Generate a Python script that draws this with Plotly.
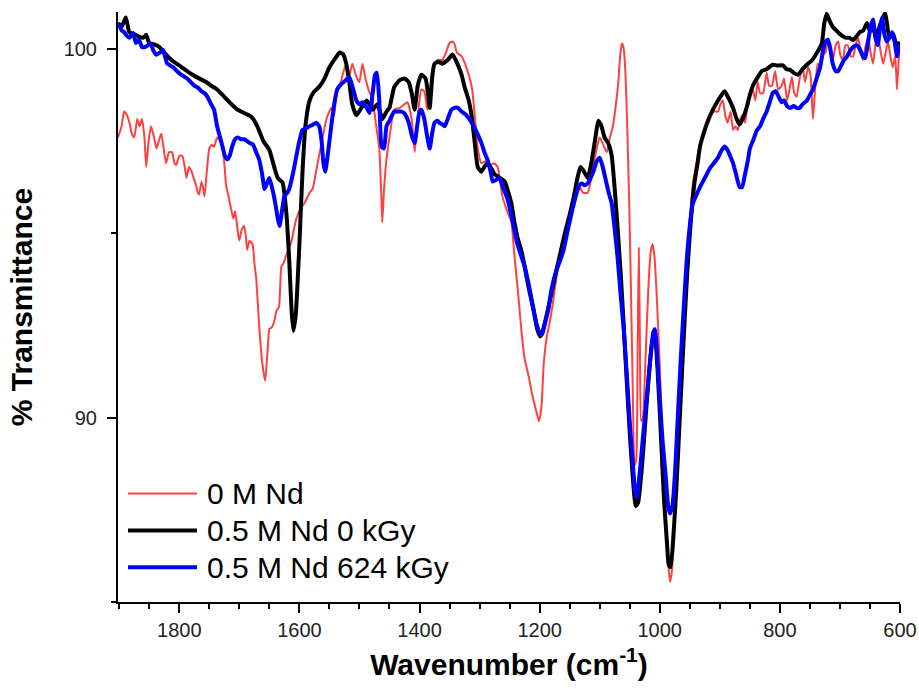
import plotly.graph_objects as go

# ---------------- data ----------------
wn_black = [1902,1896,1889,1883,1875,1867,1860,1855,1850,1842,1833,1825,1813,1802,1790,1778,1767,1755,1747,1737,1725,1713,1703,1692,1680,1670,1660,1650,1642,1636,1628,1622,1617,1613,1610,1606,1600,1595,1590,1583,1575,1567,1558,1550,1540,1533,1527,1522,1517,1512,1505,1497,1488,1478,1470,1462,1455,1450,1442,1433,1425,1418,1413,1408,1403,1397,1390,1386,1383,1379,1375,1368,1363,1353,1345,1337,1330,1325,1318,1313,1308,1303,1297,1292,1287,1280,1275,1266,1258,1252,1247,1242,1237,1230,1225,1218,1210,1204,1199,1194,1188,1180,1172,1165,1158,1150,1143,1137,1132,1127,1120,1114,1108,1102,1097,1092,1086,1080,1075,1070,1065,1060,1055,1050,1045,1040,1036,1030,1024,1018,1012,1008,1004,998,993,988,985,982,978,972,966,960,954,948,942,937,933,925,917,910,903,897,892,885,878,872,867,862,855,850,845,838,830,822,812,805,795,789,783,777,770,762,755,746,738,733,730,726,722,717,712,706,700,690,684,678,672,667,661,655,650,644,638,632,625,620,617,611,605,601]
t_black = [100.7,100.6,100.85,100.45,100.4,100.33,100.3,100.38,100.16,100.12,100.05,99.9,99.7,99.57,99.43,99.3,99.2,99.1,99.0,98.9,98.7,98.5,98.35,98.26,98.16,97.9,97.5,97.26,96.8,96.5,96.37,95.6,94.3,92.9,92.35,92.8,94.7,96.6,97.9,98.6,98.85,98.97,99.2,99.5,99.75,99.9,99.85,99.6,99.1,98.5,98.2,98.4,98.6,98.35,98.5,98.1,98.3,98.4,98.97,99.15,99.2,99.1,98.8,98.35,99.0,99.3,99.2,98.8,98.4,99.2,99.6,99.65,99.6,99.7,99.85,99.6,99.3,98.97,98.6,98.16,97.45,96.8,96.67,96.8,96.9,96.75,96.6,96.5,96.4,96.1,95.8,95.3,94.9,94.5,94.1,93.5,92.9,92.4,92.2,92.4,92.8,93.4,94.0,94.5,95.0,95.5,96.0,96.5,96.8,96.7,96.5,96.9,97.5,98.05,97.9,97.6,97.45,97.1,96.2,95.1,93.9,92.5,91.0,89.6,88.4,87.6,87.7,88.6,89.9,91.2,92.1,92.2,91.4,89.5,87.8,86.6,86.0,85.95,86.6,88.2,90.2,92.2,94.0,95.4,96.4,96.9,97.35,97.8,98.16,98.4,98.6,98.75,98.85,98.65,98.4,98.1,97.95,98.1,98.43,98.75,99.0,99.2,99.4,99.45,99.57,99.55,99.55,99.45,99.43,99.35,99.3,99.45,99.57,99.7,99.9,100.05,100.16,100.7,100.95,100.75,100.6,100.5,100.4,100.3,100.3,100.24,100.35,100.45,100.5,100.7,100.5,100.5,100.45,100.7,100.97,100.5,100.3,100.4,99.97,100.2]

wn_red = [1902,1900,1896,1892,1887,1883,1879,1875,1870,1866,1862,1858,1855,1851,1847,1842,1838,1834,1830,1826,1822,1817,1812,1808,1805,1800,1795,1791,1788,1784,1780,1776,1772,1769,1767,1763,1760,1758,1754,1750,1746,1742,1737,1732,1728,1725,1722,1718,1713,1710,1707,1703,1700,1696,1692,1689,1687,1683,1678,1675,1672,1667,1662,1657,1653,1650,1646,1642,1638,1634,1630,1626,1622,1617,1613,1605,1597,1592,1583,1578,1572,1563,1555,1547,1542,1537,1533,1528,1522,1517,1512,1505,1500,1495,1490,1485,1478,1472,1467,1464,1462,1459,1455,1450,1442,1433,1425,1420,1413,1408,1403,1397,1392,1387,1382,1378,1370,1362,1356,1350,1345,1341,1338,1330,1322,1313,1308,1303,1297,1290,1283,1276,1270,1262,1253,1247,1242,1236,1230,1225,1218,1212,1206,1201,1197,1193,1188,1183,1178,1172,1165,1158,1150,1142,1135,1128,1120,1112,1105,1100,1094,1088,1083,1078,1073,1069,1066,1063,1060,1057,1054,1051,1048,1045,1042,1039,1037,1035,1033,1031,1028,1024,1019,1015,1012,1009,1005,1000,995,990,986,983,980,976,971,966,960,955,950,945,940,933,925,917,910,903,899,895,891,887,882,878,874,870,866,862,858,855,850,845,841,837,833,828,822,818,813,808,803,797,793,788,784,780,776,772,767,762,758,753,749,745,741,737,732,728,724,720,716,712,707,703,699,695,691,687,682,678,674,670,666,662,657,653,649,645,641,637,632,628,624,620,616,612,608,605,601]
t_red = [97.6,97.7,97.9,98.3,98.2,98.0,97.7,97.6,98.1,97.9,98.1,97.6,96.8,97.5,97.9,97.6,97.3,97.5,97.7,97.3,96.9,97.2,97.2,96.9,96.85,97.1,97.1,96.8,96.5,96.8,96.7,96.5,96.3,96.1,96.05,96.4,96.2,96.0,96.7,97.3,97.4,97.35,97.6,97.5,97.3,96.9,96.3,96.0,95.6,95.4,95.6,95.1,94.8,95.1,95.2,94.9,94.55,94.8,94.7,94.2,93.8,92.5,91.5,91.0,91.8,92.4,92.45,92.6,92.9,93.0,94.1,94.2,94.4,94.6,94.8,95.4,95.7,95.8,96.1,96.2,96.7,97.45,98.1,98.4,98.2,98.97,99.0,99.3,99.6,99.25,99.6,99.24,99.1,99.6,99.2,98.9,98.6,97.9,97.3,96.2,95.3,96.2,97.0,97.6,98.35,98.4,98.5,98.55,98.08,97.2,98.1,98.9,98.85,98.35,98.9,99.5,99.7,99.7,99.9,100.16,100.2,100.1,99.9,99.8,99.5,98.97,98.2,97.3,96.9,96.95,96.85,96.9,96.8,96.0,95.55,95.3,94.4,93.4,92.3,91.6,91.1,90.6,90.2,89.9,90.3,91.5,92.2,92.6,93.1,93.8,94.4,94.9,95.3,95.9,96.3,96.1,96.1,96.7,97.3,97.6,97.4,97.2,97.6,97.9,98.5,99.1,99.8,100.15,100.0,99.3,97.8,95.9,93.5,90.8,88.7,88.9,91.5,94.6,92.0,89.9,90.0,91.5,93.5,94.5,94.7,94.4,93.3,91.4,89.3,87.4,86.1,85.55,85.8,87.0,89.0,90.7,92.8,94.3,95.4,96.3,96.8,97.45,97.9,98.2,98.3,98.3,98.5,98.6,98.2,98.0,98.3,97.8,97.9,97.8,98.1,98.2,98.0,98.35,98.7,98.9,98.6,99.1,98.8,98.8,99.35,99.0,99.0,99.4,98.9,99.0,99.2,98.6,98.9,99.24,98.8,98.7,99.2,99.5,99.1,99.5,99.3,98.1,99.0,99.6,99.5,99.84,99.9,100.24,99.9,99.7,100.1,100.2,99.8,99.7,100.1,100.1,99.8,99.8,100.1,100.3,100.0,99.7,100.1,100.3,99.9,99.6,100.1,100.4,99.9,99.6,99.9,100.2,99.8,99.5,99.8,98.9,100.1]

wn_blue = [1902,1900,1896,1892,1887,1883,1877,1872,1867,1862,1857,1852,1848,1843,1838,1832,1827,1823,1820,1815,1810,1804,1797,1792,1787,1781,1775,1769,1763,1758,1753,1747,1742,1737,1732,1728,1724,1720,1716,1712,1707,1703,1697,1692,1687,1683,1677,1672,1667,1662,1658,1654,1650,1645,1640,1636,1633,1629,1625,1620,1617,1611,1605,1600,1595,1589,1583,1577,1572,1567,1563,1560,1557,1553,1547,1542,1537,1530,1522,1517,1512,1505,1500,1495,1488,1483,1478,1474,1471,1467,1463,1459,1455,1450,1447,1442,1437,1430,1425,1418,1412,1408,1404,1400,1397,1392,1387,1383,1379,1375,1370,1367,1362,1358,1353,1347,1342,1336,1330,1322,1313,1305,1297,1292,1287,1282,1278,1272,1267,1260,1253,1246,1241,1237,1231,1225,1218,1212,1206,1200,1196,1192,1186,1180,1172,1165,1160,1153,1146,1140,1134,1130,1125,1120,1115,1110,1105,1100,1095,1090,1085,1080,1075,1070,1065,1060,1055,1050,1045,1041,1038,1034,1030,1025,1020,1015,1011,1008,1004,1000,995,990,986,983,979,975,970,965,960,955,950,945,940,933,925,917,910,903,897,892,887,883,878,873,867,863,858,853,850,845,838,833,828,822,817,812,807,802,797,793,788,783,777,772,767,762,755,750,745,738,733,728,724,720,716,712,707,703,698,693,688,683,678,672,667,662,658,654,649,645,641,637,633,630,626,622,618,613,609,605,601]
t_blue = [100.7,100.65,100.5,100.46,100.35,100.3,100.43,100.16,100.25,100.05,100.05,100.1,100.15,99.95,99.84,99.9,99.97,99.75,99.6,99.55,99.5,99.4,99.3,99.25,99.2,99.1,99.0,98.95,98.85,98.8,98.7,98.5,98.35,97.9,97.6,97.35,97.1,97.0,97.1,97.35,97.55,97.6,97.55,97.55,97.5,97.45,97.4,97.2,97.0,96.6,96.2,96.35,96.5,96.2,95.8,95.4,95.2,95.6,96.0,96.1,96.2,96.6,97.1,97.5,97.8,97.85,97.9,97.95,98.0,97.9,97.5,96.9,96.67,97.1,97.9,98.5,98.9,99.05,99.16,99.24,99.0,98.6,98.5,98.55,98.4,98.26,98.8,99.3,99.35,98.6,97.35,97.3,97.9,98.05,98.16,98.3,98.3,98.3,98.25,98.0,97.6,97.45,97.9,98.3,98.35,98.1,97.6,97.3,97.7,98.0,98.05,98.0,97.95,97.9,98.1,98.35,98.4,98.4,98.3,98.2,98.0,97.75,97.45,97.2,97.0,96.7,96.4,96.45,96.5,96.2,95.9,95.4,95.0,94.7,94.4,94.1,93.6,93.1,92.6,92.3,92.25,92.5,92.9,93.5,94.0,94.3,94.55,95.1,95.6,96.0,96.3,96.35,96.3,96.35,96.5,96.7,96.95,97.05,96.8,96.45,96.1,95.8,95.1,94.3,93.3,92.4,91.2,89.9,88.8,88.0,87.85,88.4,89.1,90.0,90.8,91.7,92.3,92.4,91.6,90.5,89.3,88.4,87.6,87.4,87.6,88.4,90.0,91.6,93.0,94.3,95.2,95.8,96.0,96.25,96.5,96.75,96.9,97.05,97.25,97.35,97.25,97.1,96.9,96.6,96.25,96.25,96.6,97.0,97.3,97.5,97.8,97.9,98.1,98.3,98.55,98.8,98.85,98.7,98.55,98.6,98.45,98.4,98.45,98.4,98.4,98.5,98.6,98.75,98.9,99.24,99.5,99.97,100.2,100.25,100.0,99.6,99.4,99.4,99.55,99.7,99.8,99.95,100.05,100.1,100.0,99.8,99.75,100.1,100.6,100.8,100.3,100.1,100.6,100.85,100.4,100.2,100.3,100.45,100.2,99.8,100.1]

series_names = ["0 M Nd", "0.5 M Nd 0 kGy", "0.5 M Nd 624 kGy"]
x_ticks = [1800, 1600, 1400, 1200, 1000, 800, 600]
y_ticks = [90, 100]

# ---------------- styles ----------------
RED = "rgb(255,64,64)"
BLACK = "rgb(0,0,0)"
BLUE = "rgb(0,0,255)"
FONT = "Liberation Sans, Arial, sans-serif"

fig = go.Figure()
fig.add_trace(go.Scatter(x=wn_red, y=t_red, mode="lines", name=series_names[0],
                         line=dict(color=RED, width=2, shape="spline", smoothing=0.5)))
fig.add_trace(go.Scatter(x=wn_black, y=t_black, mode="lines", name=series_names[1],
                         line=dict(color=BLACK, width=4, shape="spline", smoothing=0.5)))
fig.add_trace(go.Scatter(x=wn_blue, y=t_blue, mode="lines", name=series_names[2],
                         line=dict(color=BLUE, width=4, shape="spline", smoothing=0.5)))

axis_common = dict(showline=True, linecolor="black", linewidth=2, ticks="outside",
                   tickwidth=2, tickcolor="black", ticklen=9, showgrid=False,
                   zeroline=False, mirror=False, automargin=False,
                   tickfont=dict(family=FONT, size=20, color="#222"))

fig.update_xaxes(range=[1902, 600], tickvals=x_ticks, ticktext=[str(v) for v in x_ticks],
                 minor=dict(dtick=50, tick0=600, ticks="outside", ticklen=5, tickwidth=2,
                            tickcolor="black", showgrid=False),
                 title=dict(text="<b>Wavenumber (cm<sup>-1</sup>)</b>",
                            font=dict(family=FONT, size=30, color="black"), standoff=14),
                 **axis_common)
fig.update_yaxes(range=[85, 101], tickvals=y_ticks, ticktext=[str(v) for v in y_ticks],
                 ticklabelstandoff=6,
                 minor=dict(dtick=5, tick0=85, ticks="outside", ticklen=5, tickwidth=2,
                            tickcolor="black", showgrid=False),
                 title=dict(text="<b>% Transmittance</b>",
                            font=dict(family=FONT, size=30, color="black"), standoff=22),
                 **axis_common)

# manual legend (paper coordinates)
leg_rows = [0.184, 0.121, 0.059]
leg_colors = [RED, BLACK, BLUE]
leg_widths = [2, 4, 4]
for name, yy, c, w in zip(series_names, leg_rows, leg_colors, leg_widths):
    fig.add_shape(type="line", xref="paper", yref="paper", x0=0.0128, x1=0.101,
                  y0=yy, y1=yy, line=dict(color=c, width=w))
    fig.add_annotation(xref="paper", yref="paper", x=0.111, y=yy, text=name,
                       showarrow=False, xanchor="left", yanchor="middle",
                       font=dict(family=FONT, size=30, color="black"))

fig.update_layout(width=919, height=689, margin=dict(l=118, r=19, t=12, b=87),
                  paper_bgcolor="white", plot_bgcolor="white", showlegend=False,
                  font=dict(family=FONT))

fig.write_html("out.html")
